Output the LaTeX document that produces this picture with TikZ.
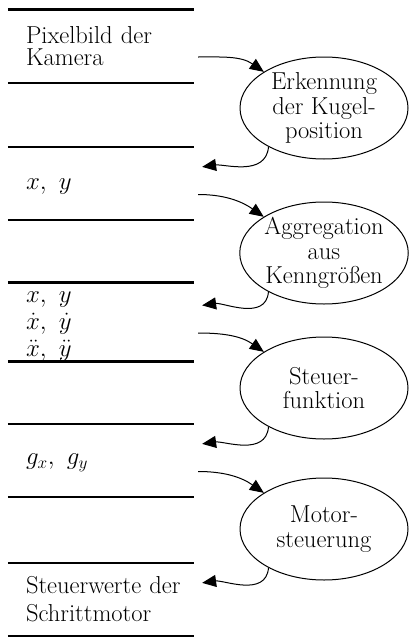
\documentclass[tikz,border=0pt]{standalone}
\usepackage{amsmath}
\usepackage{amssymb}
\usepackage{tikz}
\usetikzlibrary{shapes, arrows.meta, positioning}

\tikzset{
    speicher/.style={rectangle, minimum width=186pt, minimum height=73pt,
        text width=150pt, inner xsep=18pt, inner ysep=0pt, align=left,
        font=\fontsize{24.5}{22}\selectfont},
    prozess/.style={ellipse, draw, line width=1pt, minimum width=168pt,
        minimum height=102pt, inner sep=0pt, align=center,
        font=\fontsize{24.5}{24.5}\selectfont},
    linie/.style={line width=2.4pt},
    fluss/.style={line width=1pt, -{Triangle[length=14pt, width=12pt]}},
}

\begin{document}
\begin{tikzpicture}[x=1pt, y=1pt]
        \useasboundingbox (0,0) rectangle (410,-637);

        % Datenspeicher (links)
        \node[speicher] (bild) at (101,-46) {Pixelbild der\\Kamera};
        \node[speicher] (pos) at (101,-183.5) {\rule{0pt}{16pt}$x,\ y$};
        \node[speicher] (kenn) at (101,-322)
            {\rule{0pt}{20pt}$x,\ y$\\[5pt]$\dot{x},\ \dot{y}$\\[5pt]$\ddot{x},\ \ddot{y}$};
        \node[speicher] (stell) at (101,-460.5) {\rule{0pt}{16pt}$g_x,\ g_y$};
        \node[speicher] (motor) at (101,-599.5) {Steuerwerte~der\\[6pt]Schrittmotor};
        \foreach \s in {bild, pos, kenn, stell, motor}
            \draw[linie] (\s.north west) -- (\s.north east)
                         (\s.south west) -- (\s.south east);

        % Prozesse (rechts)
        \node[prozess] (erkennung) at (324,-108) {Erkennung\\der Kugel-\\position};
        \node[prozess] (aggregation) at (324,-253) {Aggregation\\aus\\Kenngr\"o\ss en};
        \node[prozess] (steuerfkt) at (324,-388) {Steuer-\\funktion};
        \node[prozess] (motorstrg) at (324,-529) {Motor-\\steuerung};

        % Datenfluss
        \foreach \a/\p/\b in {bild/erkennung/pos, pos/aggregation/kenn,
                              kenn/steuerfkt/stell, stell/motorstrg/motor} {
            \draw[fluss, shorten <=4pt] ([yshift=-11pt]\a.east) to[out=0, in=145] (\p.149);
            \draw[fluss, shorten >=8pt] (\p.215) to[out=-95, in=8] ([yshift=15.5pt]\b.east);
        }

\end{tikzpicture}
\end{document}
